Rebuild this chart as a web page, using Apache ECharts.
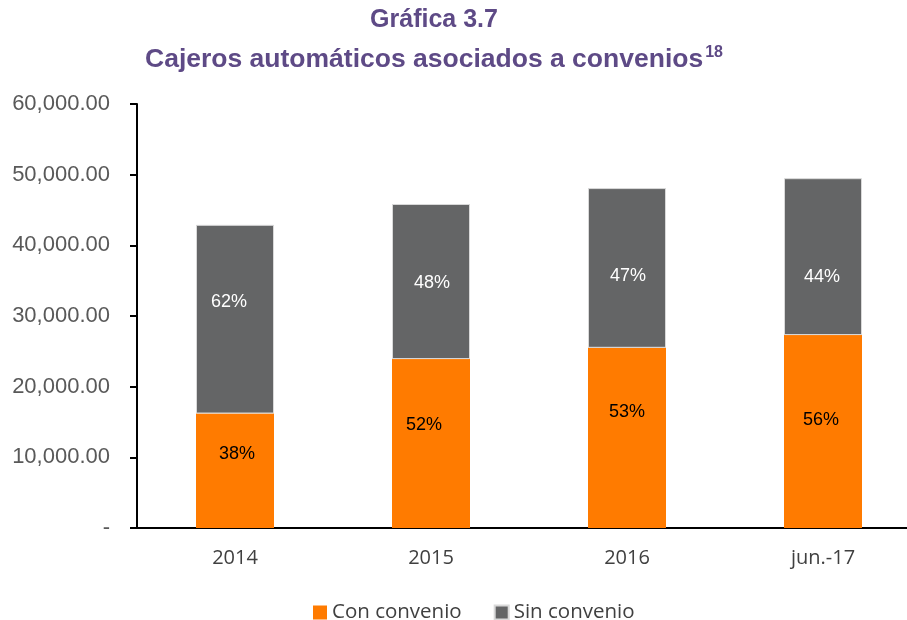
<!DOCTYPE html>
<html>
<head>
<meta charset="utf-8">
<script src="https://cdn.jsdelivr.net/npm/echarts@6/dist/echarts.min.js"></script>
<style>
  html, body { margin: 0; padding: 0; background: #fff; }
  #chart { width: 907px; height: 620px; }
</style>
</head>
<body>
<div id="chart"></div>
<script>
var categories = ['2014', '2015', '2016', 'jun.-17'];
var conConvenio = [16200, 23900, 25500, 27300];
var sinConvenio = [26700, 21950, 22600, 22200];
var conLabels = ['38%', '52%', '53%', '56%'];
var sinLabels = ['62%', '48%', '47%', '44%'];

// hand placed label shifts (as in the original chart)
var conShift = [[2, -17], [-7, -19], [0, -26], [-2, -12]];
var sinShift = [[-6, -17], [1, 1], [1, 8], [-1, 20]];

var chart = echarts.init(document.getElementById('chart'));

function fmtTick(v) {
    if (v === 0) return '-';
    return v.toLocaleString('en-US', { minimumFractionDigits: 2, maximumFractionDigits: 2 });
}

function withLabels(values, shifts) {
    return values.map(function (v, i) {
        return { value: v, label: { offset: shifts[i] } };
    });
}

var option = {
    backgroundColor: '#ffffff',
    animation: false,
    title: {
        text: '{a|Gráfica 3.7}\n{t|Cajeros automáticos asociados a convenios}{s|18}',
        left: 429,
        textAlign: 'center',
        top: -5,
        textStyle: {
            rich: {
                a: { fontFamily: 'Liberation Sans', fontWeight: 'bold', fontSize: 25, color: '#5e4a86', lineHeight: 40 },
                t: { fontFamily: 'Liberation Sans', fontWeight: 'bold', fontSize: 26.5, color: '#5e4a86', lineHeight: 40 },
                s: { fontFamily: 'Liberation Sans', fontWeight: 'bold', fontSize: 16, color: '#5e4a86', verticalAlign: 'top', lineHeight: 40, padding: [5, 0, 0, 2] }
            }
        }
    },
    legend: {
        top: 597,
        left: 308,
        itemWidth: 14,
        itemHeight: 14,
        itemGap: 32,
        icon: 'rect',
        textStyle: { fontFamily: 'Open Sans', fontSize: 20.5, color: '#404040' },
        data: ['Con convenio', 'Sin convenio']
    },
    grid: {
        left: 137,
        top: 104,
        bottom: 92,
        width: 784,
        outerBoundsMode: 'none'
    },
    xAxis: {
        type: 'category',
        data: categories,
        axisLine: { lineStyle: { color: '#000', width: 2 } },
        axisTick: { show: false },
        axisLabel: { fontFamily: 'Open Sans', fontSize: 20, color: '#404040', margin: 20 }
    },
    yAxis: {
        type: 'value',
        min: 0,
        max: 60000,
        interval: 10000,
        splitLine: { show: false },
        axisLine: { show: true, lineStyle: { color: '#000', width: 2 } },
        axisTick: { show: true, length: 7, lineStyle: { color: '#000', width: 2 } },
        axisLabel: { formatter: fmtTick, fontFamily: 'Liberation Sans', fontSize: 22, color: '#595959', margin: 27 }
    },
    series: [{
        name: 'Con convenio',
        type: 'bar',
        stack: 'total',
        barWidth: 78,
        itemStyle: { color: '#ff7b00' },
        label: {
            show: true,
            position: 'inside',
            fontFamily: 'Liberation Sans',
            fontSize: 18,
            color: '#000',
            formatter: function (p) { return conLabels[p.dataIndex]; }
        },
        data: withLabels(conConvenio, conShift)
    }, {
        name: 'Sin convenio',
        type: 'bar',
        stack: 'total',
        barWidth: 78,
        itemStyle: { color: '#646566', borderColor: '#d9d9d9', borderWidth: 1 },
        label: {
            show: true,
            position: 'inside',
            fontFamily: 'Liberation Sans',
            fontSize: 18,
            color: '#fff',
            formatter: function (p) { return sinLabels[p.dataIndex]; }
        },
        data: withLabels(sinConvenio, sinShift)
    }]
};
chart.setOption(option);
</script>
</body>
</html>
